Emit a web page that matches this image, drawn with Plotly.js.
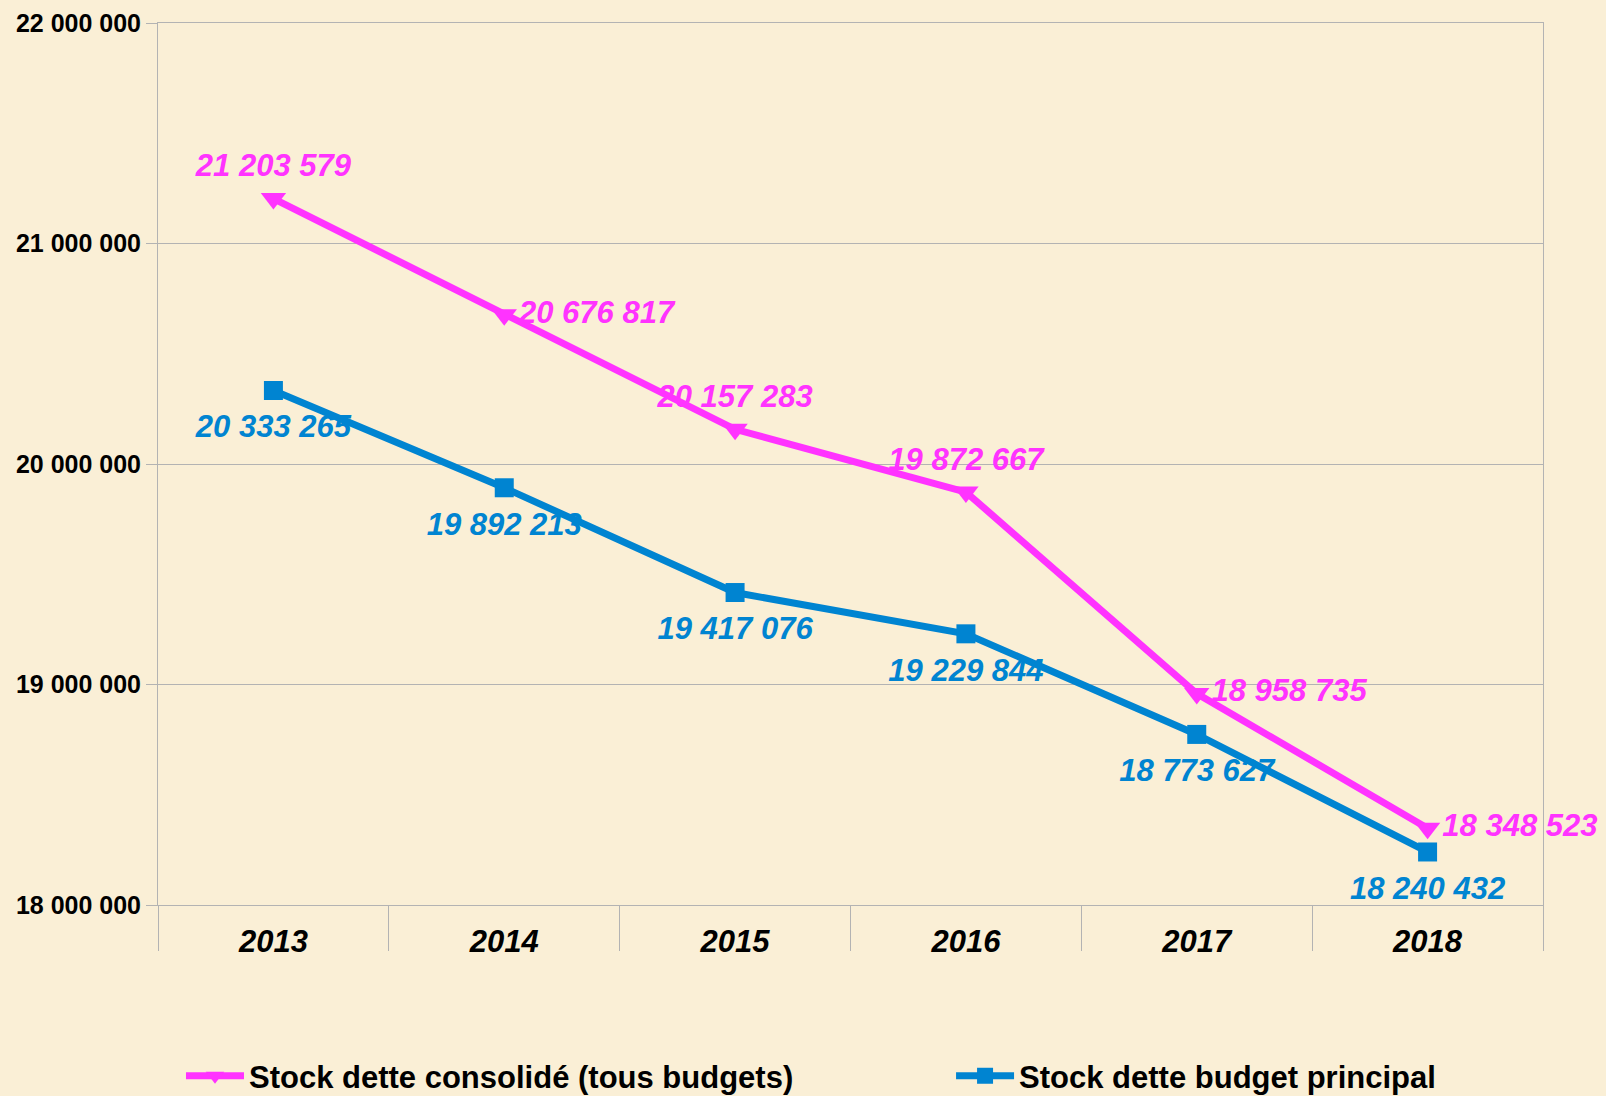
<!DOCTYPE html>
<html>
<head>
<meta charset="utf-8">
<script src="https://cdn.plot.ly/plotly-3.0.1.min.js"></script>
<style>
html,body{margin:0;padding:0;background:#FAEFD6;}
#chart{width:1606px;height:1096px;}
</style>
</head>
<body>
<div id="chart"></div>
<script>
const years = ['2013','2014','2015','2016','2017','2018'];
const consolide = [21203579, 20676817, 20157283, 19872667, 18958735, 18348523];
const principal = [20333265, 19892213, 19417076, 19229844, 18773627, 18240432];
const seriesNames = ['Stock dette consolidé (tous budgets)', 'Stock dette budget principal'];
const consolidePositions = ['top center','middle right','top center','top center','middle right','middle right'];

const magenta = '#FF33FF';
const blue = '#0084D1';
const grid = '#B3B3B3';
const font = 'Liberation Sans, Arial, sans-serif';

const traces = [
  {
    x: years, y: consolide, name: seriesNames[0], type: 'scatter', mode: 'lines+markers+text',
    line: {color: magenta, width: 7},
    marker: {symbol: 'triangle-down', size: 22, color: magenta},
    texttemplate: '%{y:,d}', textposition: consolidePositions,
    textfont: {family: font, size: 31, color: magenta, weight: 'bold', style: 'italic'},
    cliponaxis: false, hoverinfo: 'x+y', legend: 'legend'
  },
  {
    x: years, y: principal, name: seriesNames[1], type: 'scatter', mode: 'lines+markers',
    line: {color: blue, width: 7},
    marker: {symbol: 'square', size: 19, color: blue},
    cliponaxis: false, hoverinfo: 'x+y', legend: 'legend2'
  },
  {
    x: years, y: principal, name: seriesNames[1], type: 'scatter', mode: 'markers+text',
    marker: {symbol: 'square', size: 36, color: blue, opacity: 0},
    texttemplate: '%{y:,d}', textposition: 'bottom center',
    textfont: {family: font, size: 31, color: blue, weight: 'bold', style: 'italic'},
    cliponaxis: false, hoverinfo: 'skip', showlegend: false
  }
];

const legendFont = {family: font, size: 31, weight: 'bold', color: '#000'};

const layout = {
  width: 1606, height: 1096,
  paper_bgcolor: '#FAEFD6', plot_bgcolor: 'rgba(0,0,0,0)',
  separators: ', ',
  margin: {l: 158, r: 63, t: 23, b: 191, autoexpand: false},
  font: {family: font, color: '#000'},
  showlegend: true,
  xaxis: {
    type: 'category', range: [-0.5, 5.5],
    tickson: 'boundaries', ticks: 'outside', ticklen: 45, tickcolor: grid, tickwidth: 1,
    showgrid: false, showline: true, linecolor: grid, linewidth: 1, mirror: true,
    tickfont: {family: font, size: 31, weight: 'bold', style: 'italic', color: '#000'},
    ticklabelstandoff: 9
  },
  yaxis: {
    range: [18000000, 22000000], dtick: 1000000, tick0: 18000000,
    tickformat: ',d', ticks: 'outside', ticklen: 11, tickcolor: grid, tickwidth: 1,
    showgrid: true, gridcolor: grid, gridwidth: 1,
    showline: true, linecolor: grid, linewidth: 1, mirror: true, zeroline: false,
    tickfont: {family: font, size: 25, weight: 'bold', color: '#000'},
    ticklabelstandoff: 0
  },
  legend: {
    orientation: 'h', x: 0.0166, xanchor: 'left', y: -0.194, yanchor: 'middle',
    bgcolor: 'rgba(0,0,0,0)', itemwidth: 58, font: legendFont
  },
  legend2: {
    orientation: 'h', x: 0.5726, xanchor: 'left', y: -0.194, yanchor: 'middle',
    bgcolor: 'rgba(0,0,0,0)', itemwidth: 58, font: legendFont
  }
};

Plotly.newPlot('chart', traces, layout, {displayModeBar: false, staticPlot: true});
</script>
</body>
</html>
